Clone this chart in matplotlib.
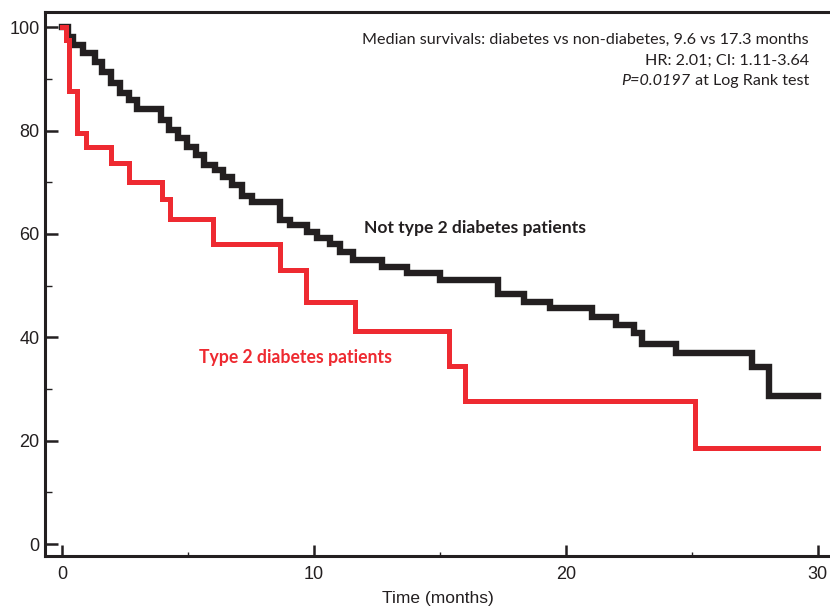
import matplotlib
matplotlib.use("Agg")
import matplotlib.pyplot as plt
from matplotlib.ticker import MultipleLocator
from matplotlib.transforms import offset_copy

# ---- data ----
red_times = [0, 0.15, 0.29, 0.58, 0.95, 1.94, 2.66, 3.96, 4.29, 5.98, 8.65, 9.68,
             11.63, 15.36, 15.99, 25.12, 30.0]
red_surv = [100, 97.5, 87.6, 79.5, 76.9, 73.8, 70.1, 66.7, 62.9, 58.1, 53.1, 46.9,
            41.3, 34.4, 27.6, 18.5, 18.5]

black_times = [0, 0.25, 0.44, 0.83, 1.31, 1.59, 1.94, 2.30, 2.66, 2.98, 3.93, 4.25,
               4.60, 4.96, 5.32, 5.63, 6.07, 6.39, 6.75, 7.14, 7.54, 8.65, 9.05,
               9.72, 10.12, 10.63, 11.03, 11.55, 12.70, 13.69, 15.0, 17.3, 18.33,
               19.37, 21.03, 21.98, 22.70, 23.02, 24.37, 27.38, 28.04, 30.0]
black_surv = [100, 98.2, 96.6, 95.0, 93.3, 91.4, 89.2, 87.2, 85.9, 84.1, 82.1, 80.1,
              78.6, 76.9, 75.3, 73.4, 72.4, 71.1, 69.5, 67.3, 66.2, 62.7, 61.7,
              60.4, 59.3, 58.0, 56.6, 55.0, 53.7, 52.4, 51.0, 48.4, 46.9,
              45.6, 44.0, 42.4, 40.8, 38.8, 36.9, 34.3, 28.7, 28.7]

x_ticks = [0, 10, 20, 30]
y_ticks = [0, 20, 40, 60, 80, 100]

annot_lines = ["Median survivals: diabetes vs non-diabetes, 9.6 vs 17.3 months",
               "HR: 2.01; CI: 1.11-3.64"]
p_italic = "P=0.0197"
p_rest = " at Log Rank test"
label_black = "Not type 2 diabetes patients"
label_red = "Type 2 diabetes patients"

# ---- style ----
INK = "#231F20"
RED = "#EE2A31"
plt.rcParams['font.family'] = ['Liberation Sans', 'DejaVu Sans']

fig = plt.figure(figsize=(8.30, 6.08), dpi=100)
ax = fig.add_axes([0.0542, 0.0855, 0.9458, 0.8948])

ax.step(black_times, black_surv, where='post', color=INK, lw=4.6,
        solid_joinstyle='miter', zorder=3)
ax.step(red_times, red_surv, where='post', color=RED, lw=3.6,
        solid_joinstyle='miter', zorder=4)

ax.set_xlim(-0.675, 30.48)
ax.set_ylim(-2.32, 102.96)

ax.set_xticks(x_ticks)
ax.set_yticks(y_ticks)
ax.xaxis.set_minor_locator(MultipleLocator(5))
ax.yaxis.set_minor_locator(MultipleLocator(10))

ax.tick_params(axis='both', which='both', direction='in', colors=INK,
               labelcolor=INK, labelsize=13)
ax.tick_params(axis='y', which='major', length=9, width=1.8, pad=4)
ax.tick_params(axis='y', which='minor', length=5, width=1.0)
ax.tick_params(axis='x', which='major', length=8, width=1.8, pad=7)
ax.tick_params(axis='x', which='minor', length=3, width=1.0)
ax.tick_params(top=False, right=False, which='both')

for s in ['left', 'bottom', 'top']:
    ax.spines[s].set_linewidth(2.2)
    ax.spines[s].set_color(INK)
ax.spines['right'].set_visible(False)

ax.set_xlabel("Time (months)", fontsize=12.5, color=INK, labelpad=6)

tf = ['Lato', 'DejaVu Sans']
afs = 11.6
xr = 0.973
ax.text(xr, 0.948, annot_lines[0], transform=ax.transAxes, ha='right', va='center',
        fontsize=afs, color=INK, family=tf)
ax.text(xr, 0.911, annot_lines[1], transform=ax.transAxes, ha='right', va='center',
        fontsize=afs, color=INK, family=tf)
t_rest = ax.text(xr, 0.874, p_rest, transform=ax.transAxes, ha='right', va='center',
                 fontsize=afs, color=INK, family=tf)
fig.canvas.draw()
w_px = t_rest.get_window_extent(renderer=fig.canvas.get_renderer()).width
trans = offset_copy(ax.transAxes, fig=fig, x=-w_px * 72.0 / fig.dpi, y=0, units='points')
ax.text(xr, 0.874, p_italic, transform=trans, ha='right', va='center',
        fontsize=afs, color=INK, family=tf, style='italic')

ax.text(16.4, 61.2, label_black, ha='center', va='center', fontsize=12.6,
        fontweight='bold', color=INK, family=tf)
ax.text(9.25, 36.0, label_red, ha='center', va='center', fontsize=12.7,
        fontweight='bold', color=RED, family=tf)

fig.savefig("out.png", dpi=100)
